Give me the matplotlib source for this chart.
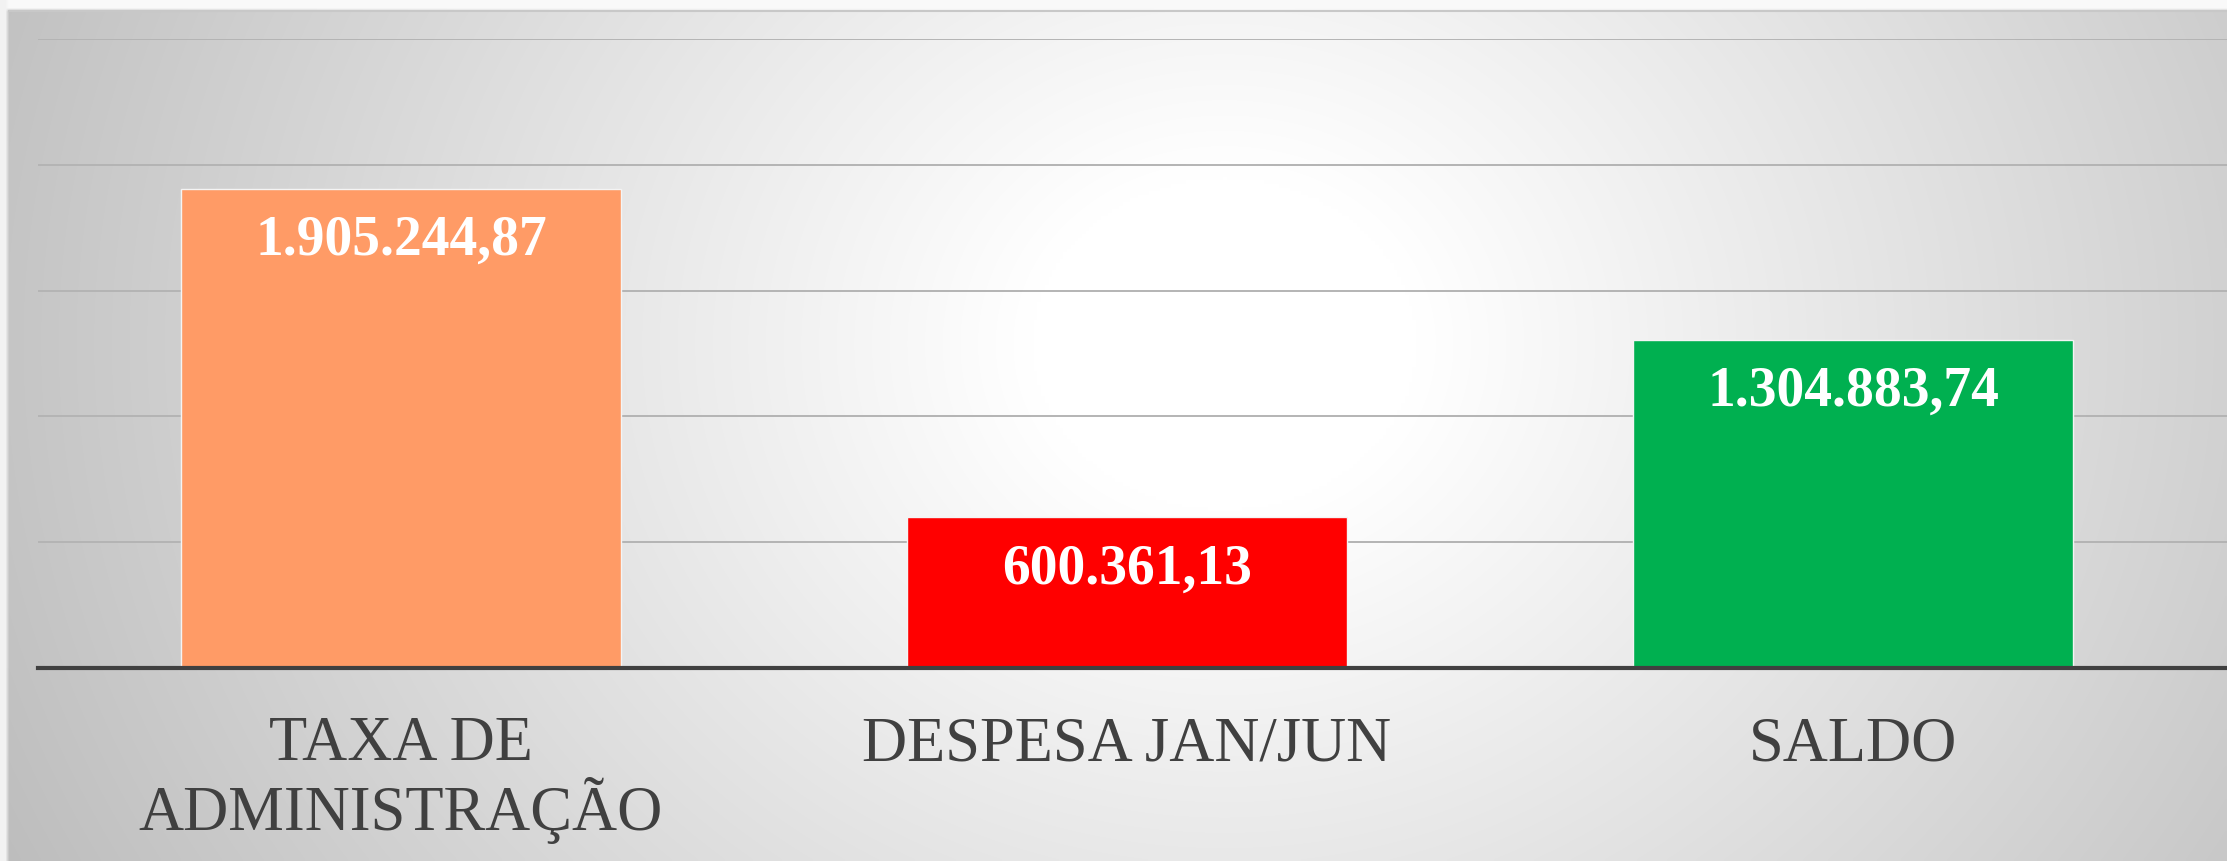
import numpy as np
import matplotlib.pyplot as plt

# 数据
categories = ["TAXA DE\nADMINISTRAÇÃO", "DESPESA JAN/JUN", "SALDO"]
values = [1905244.87, 600361.13, 1304883.74]
value_labels = ["1.905.244,87", "600.361,13", "1.304.883,74"]
bar_colors = ["#FF9B66", "#FF0000", "#00B050"]

W, H = 2227, 862
fig = plt.figure(figsize=(W / 100, H / 100), dpi=100)

# 背景：径向渐变
bg = fig.add_axes([0, 0, 1, 1], zorder=-10)
xx, yy = np.meshgrid(np.linspace(0, 1, 600), np.linspace(0, 1, 240))
r = np.sqrt(((xx - 0.55) / 0.58) ** 2 + ((yy - 0.4) / 1.3) ** 2)
gray = 255 - 62 * np.clip((r - 0.15) / 0.85, 0, 1.1)
img = np.dstack([gray, gray, gray]) / 255.0
# 顶部和左侧白边
img[: int(240 * 12 / H), :, :] = 0.98
img[:, : int(600 * 9 / W), :] = 0.95
bg.imshow(img, aspect="auto", extent=[0, 1, 1, 0], interpolation="bilinear")
bg.set_xlim(0, 1)
bg.set_ylim(1, 0)
bg.axis("off")
# 顶部边框线
bg.plot([9 / W, 1], [12 / H, 12 / H], color="#c8c8c8", lw=1.5)

# 主图
left, right = 38 / W, 1.0
bottom, top = 1 - 669 / H, 1 - 40 / H
ax = fig.add_axes([left, bottom, right - left, top - bottom])
ax.set_facecolor("none")

x = np.arange(len(categories))
bars = ax.bar(x, values, width=0.605, color=bar_colors, edgecolor="#f4f4f4",
              linewidth=1, zorder=3)

ax.set_xlim(-0.5, 2.515)
ax.set_ylim(0, 2500000)
ax.set_yticks(np.arange(500000, 2500001, 500000))
ax.yaxis.grid(True, color="#b4b4b4", linewidth=1.4, zorder=0)
ax.set_axisbelow(True)
ax.tick_params(axis="y", left=False, labelleft=False)

for s in ["top", "right", "left"]:
    ax.spines[s].set_visible(False)
ax.spines["bottom"].set_color("#404040")
ax.spines["bottom"].set_linewidth(3)
ax.spines["bottom"].set_zorder(5)

ax.set_xticks(x)
ax.set_xticklabels(categories, fontfamily="Liberation Serif", fontsize=45,
                   color="#404040", linespacing=1.05)
ax.tick_params(axis="x", length=0, pad=34)

# 数值标签
for b, lab in zip(bars, value_labels):
    ax.annotate(lab, (b.get_x() + b.get_width() / 2, b.get_height()),
                xytext=(0, -37), textcoords="offset points",
                ha="center", va="center", color="white", fontsize=40,
                fontweight="bold", fontfamily="Liberation Serif", zorder=6)

fig.savefig("out.png", dpi=100)
